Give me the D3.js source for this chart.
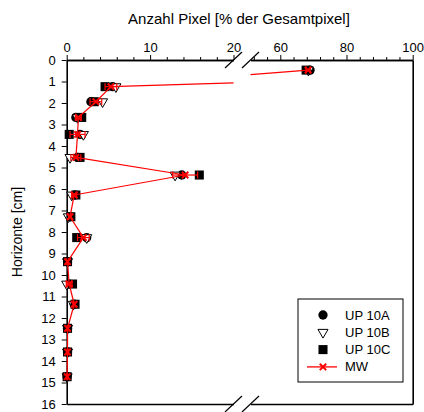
<!DOCTYPE html>
<html>
<head>
<meta charset="utf-8">
<script src="https://cdn.jsdelivr.net/npm/d3@7"></script>
<style>
  body { margin: 0; background: #fff; }
  svg { display: block; font-family: "Liberation Sans", Arial, sans-serif; }
</style>
</head>
<body>
<div id="chart"></div>
<script>
// depth of each horizon (cm) and share of pixels (%) per profile
var depth = [0.47, 1.24, 1.94, 2.67, 3.46, 4.53, 5.35, 6.28, 7.29, 8.26, 9.38, 10.42, 11.36, 12.48, 13.58, 14.73];
var up10A = [69.0, 5.5, 2.9, 1.1, 1.6, 1.3, 13.8, 1.0, 0.4, 2.4, 0.1, 0.3, 0.9, 0.1, 0.1, 0.05];
var up10B = [68.5, 5.9, 4.3, 1.3, 2.0, 0.4, 13.0, 0.6, 0.2, 2.4, 0.1, 0.0, 0.8, 0.1, 0.1, 0.05];
var up10C = [67.8, 4.6, 3.3, 1.8, 0.3, 1.6, 15.9, 1.1, 0.5, 1.2, 0.1, 0.7, 1.0, 0.1, 0.1, 0.05];
var mw    = [68.4, 5.3, 3.5, 1.4, 1.3, 1.1, 14.2, 0.9, 0.4, 2.0, 0.1, 0.3, 0.9, 0.1, 0.1, 0.05];
var mwErr = [0.6, 0.7, 0.7, 0.35, 0.9, 0.6, 1.5, 0.3, 0.15, 0.7, 0.1, 0.35, 0.1, 0.05, 0.05, 0.05];

var leftTicks = [0, 10, 20];
var leftMinor = [2, 4, 6, 8, 12, 14, 16, 18];
var rightTicks = [60, 80, 100];
var rightMinor = [52, 56, 64, 68, 72, 76, 84, 88, 92, 96];
var yTicks = d3.range(0, 17);

var width = 424, height = 412;
var plotTop = 60, plotBottom = 404;
var breakLo = 20, breakHi = 51;

var xLeft = d3.scaleLinear().domain([0, breakLo]).range([66.7, 233.5]);
var xRight = d3.scaleLinear().domain([breakHi, 100]).range([250.5, 412.7]);
var y = d3.scaleLinear().domain([0, 16]).range([plotTop, plotBottom]);

function xPos(v) {
  return v <= breakLo ? xLeft(v) : xRight(v);
}

var svg = d3.select("#chart").append("svg")
  .attr("width", width)
  .attr("height", height);

// title and y label
svg.append("text")
  .attr("x", 239).attr("y", 24)
  .attr("text-anchor", "middle")
  .style("font-size", "15px")
  .text("Anzahl Pixel [% der Gesamtpixel]");

svg.append("text")
  .attr("transform", "translate(22," + ((plotTop + plotBottom) / 2) + ") rotate(-90)")
  .attr("text-anchor", "middle")
  .style("font-size", "14px")
  .text("Horizonte [cm]");

// top axis, two segments
function styleAxis(g) {
  g.selectAll("path, line").attr("stroke", "#000");
  g.select(".domain").attr("stroke-width", 1.6);
  g.selectAll("text").style("font-size", "13px").attr("fill", "#000").style("font-family", "Liberation Sans, Arial, sans-serif");
}

[[xLeft, leftTicks, leftMinor], [xRight, rightTicks, rightMinor]].forEach(function (seg) {
  svg.append("g")
    .attr("transform", "translate(0," + plotTop + ")")
    .call(d3.axisTop(seg[0]).tickValues(seg[2]).tickSize(3).tickSizeOuter(0).tickFormat(""))
    .call(styleAxis);
  svg.append("g")
    .attr("transform", "translate(0," + plotTop + ")")
    .call(d3.axisTop(seg[0]).tickValues(seg[1]).tickSize(5).tickSizeOuter(0).tickPadding(3))
    .call(styleAxis);
  svg.append("g")
    .attr("transform", "translate(0," + plotBottom + ")")
    .call(d3.axisBottom(seg[0]).tickValues([]).tickSizeOuter(0))
    .call(styleAxis);
});

// left and right axis
svg.append("g")
  .attr("transform", "translate(" + xLeft(0) + ",0)")
  .call(d3.axisLeft(y).tickValues(yTicks).tickSize(5).tickSizeOuter(0).tickPadding(6))
  .call(styleAxis);

svg.append("g")
  .attr("transform", "translate(" + xRight(100) + ",0)")
  .call(d3.axisRight(y).tickValues([]).tickSizeOuter(0))
  .call(styleAxis);

// break marks
[plotTop, plotBottom].forEach(function (yy) {
  [xLeft(breakLo), xRight(breakHi)].forEach(function (cx) {
    svg.append("line")
      .attr("x1", cx - 8.5).attr("y1", yy + 8)
      .attr("x2", cx + 8.5).attr("y2", yy - 8)
      .attr("stroke", "#000").attr("stroke-width", 1.2);
  });
});

// markers
var circle = d3.symbol().type(d3.symbolCircle).size(68);
var square = d3.symbol().type(d3.symbolSquare).size(82);
var tri = d3.symbol().type(d3.symbolTriangle).size(44);
var cross = "M-3.2,-3.2L3.2,3.2M-3.2,3.2L3.2,-3.2";

var plot = svg.append("g");

plot.selectAll(".a").data(up10A).enter().append("path")
  .attr("d", circle)
  .attr("transform", function (d, i) { return "translate(" + xPos(d) + "," + y(depth[i]) + ")"; })
  .attr("fill", "#000");

plot.selectAll(".b").data(up10B).enter().append("path")
  .attr("d", tri)
  .attr("transform", function (d, i) { return "translate(" + xPos(d) + "," + y(depth[i]) + ") rotate(180)"; })
  .attr("fill", "#fff").attr("stroke", "#000").attr("stroke-width", 1);

plot.selectAll(".c").data(up10C).enter().append("path")
  .attr("d", square)
  .attr("transform", function (d, i) { return "translate(" + xPos(d) + "," + y(depth[i]) + ")"; })
  .attr("fill", "#000");

// mean line, clipped at the axis break in data space
var segs = [];
for (var i = 1; i < mw.length; i++) {
  var x0 = mw[i - 1], y0 = depth[i - 1], x1 = mw[i], y1 = depth[i];
  var lo0 = x0 <= breakLo, lo1 = x1 <= breakLo;
  if (lo0 === lo1) {
    segs.push([[xPos(x0), y(y0)], [xPos(x1), y(y1)]]);
  } else {
    var tA = (breakLo - x0) / (x1 - x0), tB = (breakHi - x0) / (x1 - x0);
    var yA = y0 + tA * (y1 - y0), yB = y0 + tB * (y1 - y0);
    if (lo0) {
      segs.push([[xPos(x0), y(y0)], [xLeft(breakLo), y(yA)]]);
      segs.push([[xRight(breakHi), y(yB)], [xPos(x1), y(y1)]]);
    } else {
      segs.push([[xPos(x0), y(y0)], [xRight(breakHi), y(yB)]]);
      segs.push([[xLeft(breakLo), y(yA)], [xPos(x1), y(y1)]]);
    }
  }
}
var line = d3.line();
plot.selectAll(".seg").data(segs).enter().append("path")
  .attr("d", line)
  .attr("fill", "none").attr("stroke", "#ff0000").attr("stroke-width", 1.2);

// error bars
var eb = plot.selectAll(".eb").data(mw).enter().append("g")
  .attr("stroke", "#ff0000").attr("stroke-width", 1.2);
eb.append("line")
  .attr("x1", function (d, i) { return xPos(d - mwErr[i]); })
  .attr("x2", function (d, i) { return xPos(d + mwErr[i]); })
  .attr("y1", function (d, i) { return y(depth[i]); })
  .attr("y2", function (d, i) { return y(depth[i]); });
eb.each(function (d, i) {
  var g = d3.select(this);
  [d - mwErr[i], d + mwErr[i]].forEach(function (v) {
    g.append("line")
      .attr("x1", xPos(v)).attr("x2", xPos(v))
      .attr("y1", y(depth[i]) - 3.5).attr("y2", y(depth[i]) + 3.5);
  });
});

plot.selectAll(".mw").data(mw).enter().append("path")
  .attr("d", cross)
  .attr("transform", function (d, i) { return "translate(" + xPos(d) + "," + y(depth[i]) + ")"; })
  .attr("fill", "none").attr("stroke", "#ff0000").attr("stroke-width", 2);

// legend
var legendNames = ["UP 10A", "UP 10B", "UP 10C", "MW"];
var lg = svg.append("g").attr("transform", "translate(298,299)");
lg.append("rect")
  .attr("width", 105).attr("height", 83)
  .attr("fill", "#fff").attr("stroke", "#000").attr("stroke-width", 1);

var rows = lg.selectAll(".row").data(legendNames).enter().append("g")
  .attr("transform", function (d, i) { return "translate(0," + (16 + i * 17.3) + ")"; });
rows.append("text")
  .attr("x", 47).attr("dy", "0.35em")
  .style("font-size", "13px")
  .text(function (d) { return d; });

rows.filter(function (d, i) { return i === 0; }).append("path").attr("d", circle)
  .attr("transform", "translate(25,0)").attr("fill", "#000");
rows.filter(function (d, i) { return i === 1; }).append("path").attr("d", tri)
  .attr("transform", "translate(25,0) rotate(180)").attr("fill", "#fff").attr("stroke", "#000");
rows.filter(function (d, i) { return i === 2; }).append("path").attr("d", square)
  .attr("transform", "translate(25,0)").attr("fill", "#000");
var mwRow = rows.filter(function (d, i) { return i === 3; });
mwRow.append("line").attr("x1", 9).attr("x2", 39).attr("stroke", "#ff0000").attr("stroke-width", 1.3);
mwRow.append("path").attr("d", cross).attr("transform", "translate(25,0)")
  .attr("fill", "none").attr("stroke", "#ff0000").attr("stroke-width", 2);
</script>
</body>
</html>
